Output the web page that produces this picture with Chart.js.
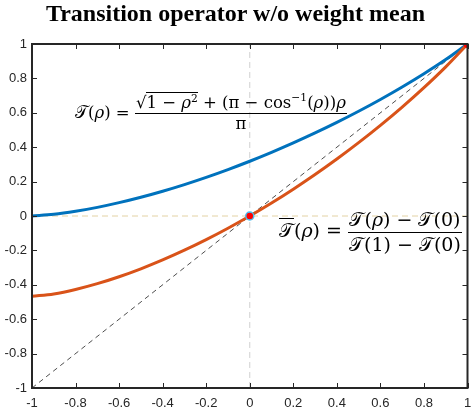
<!DOCTYPE html>
<html>
<head>
<meta charset="utf-8">
<script src="https://cdn.jsdelivr.net/npm/chart.js@4.4.1/dist/chart.umd.min.js"></script>
<style>
  html, body { margin: 0; background: #fff; overflow: hidden; }
  #wrap { position: relative; width: 471px; height: 414px; overflow: hidden; }
  #chart { position: absolute; left: 0; top: 0; }
  #title { position: absolute; left: 0; top: 0px; width: 471px; text-align: center;
    font: bold 24px "Liberation Serif", "Times New Roman", serif; color: #000; }
  .eq { position: absolute; font-family: "DejaVu Serif", "Liberation Serif", serif; color: #000; white-space: nowrap; line-height: 1.15; }
  .eq .frac { display: inline-block; vertical-align: middle; text-align: center; }
  .eq .num { display: block; padding: 0 1px 1px; }
  .eq .den { display: block; border-top: 1px solid #000; padding: 1px 1px 0; }
  .eq i { font-style: italic; }
  .eq sup { font-size: 0.65em; }
</style>
</head>
<body>
<div id="wrap">
  <canvas id="chart" width="473" height="414"></canvas>
  <div id="title">Transition operator w/o weight mean</div>
  <div class="eq" id="eq1" style="left:75px; top:92px; font-size:16.5px;">
    𝒯(<i>ρ</i>) = <span class="frac"><span class="num">√<span style="border-top:1px solid #000">1 − <i>ρ</i><sup>2</sup></span> + (π − cos<sup>−1</sup>(<i>ρ</i>))<i>ρ</i></span><span class="den">π</span></span>
  </div>
  <div class="eq" id="eq2" style="left:279px; top:209px; font-size:19px;">
    <span style="text-decoration: overline">𝒯</span>(<i>ρ</i>) = <span class="frac"><span class="num">𝒯(<i>ρ</i>) − 𝒯(0)</span><span class="den">𝒯(1) − 𝒯(0)</span></span>
  </div>
</div>
<script>
const rho = [-1, -0.9, -0.8, -0.7, -0.6, -0.5, -0.4, -0.3, -0.2, -0.1, 0,
             0.1, 0.2, 0.3, 0.4, 0.5, 0.6, 0.7, 0.8, 0.9, 1];
const transition = [0, 0.0095, 0.0271, 0.0501, 0.0776, 0.1090, 0.1441, 0.1827, 0.2247, 0.2699, 0.3183,
                    0.3699, 0.4247, 0.4827, 0.5441, 0.6090, 0.6776, 0.7501, 0.8271, 0.9095, 1];
const normalized = [-0.4669, -0.4530, -0.4272, -0.3935, -0.3532, -0.3071, -0.2555, -0.1989, -0.1373, -0.0710, 0,
                    0.0757, 0.1561, 0.2412, 0.3313, 0.4264, 0.5270, 0.6334, 0.7464, 0.8673, 1];
const diagonal = [[-1, -1], [1, 1]];
const zeroH = [[-1, 0], [1, 0]];
const zeroV = [[0, -1], [0, 1]];
const fixedPoints = [[0, 0], [1, 1]];
const tickValues = [-1, -0.8, -0.6, -0.4, -0.2, 0, 0.2, 0.4, 0.6, 0.8, 1];

const toXY = arr => arr.map(p => ({ x: p[0], y: p[1] }));
const zip = (xs, ys) => xs.map((x, i) => ({ x, y: ys[i] }));

const axisColor = '#262626';

// MATLAB style box with inward ticks
const framePlugin = {
    id: 'frame',
    afterDatasetsDraw(chart) {
        const { ctx, chartArea: a, scales } = chart;
        ctx.save();
        ctx.strokeStyle = axisColor;
        ctx.lineWidth = 1;
        const len = 5;
        ctx.beginPath();
        tickValues.forEach(v => {
            const x = Math.round(scales.x.getPixelForValue(v)) + 0.5;
            ctx.moveTo(x, a.bottom); ctx.lineTo(x, a.bottom - len);
            ctx.moveTo(x, a.top); ctx.lineTo(x, a.top + len);
            const y = Math.round(scales.y.getPixelForValue(v)) + 0.5;
            ctx.moveTo(a.left, y); ctx.lineTo(a.left + len, y);
            ctx.moveTo(a.right, y); ctx.lineTo(a.right - len, y);
        });
        ctx.stroke();
        ctx.lineWidth = 2;
        ctx.strokeRect(a.left, a.top, a.right - a.left, a.bottom - a.top);
        ctx.restore();
    }
};

const tickFont = { family: '"Liberation Sans", Arial, sans-serif', size: 13 };

new Chart(document.getElementById('chart'), {
    type: 'scatter',
    data: {
        datasets: [
            {
                data: toXY(fixedPoints),
                showLine: false,
                pointRadius: [4, 4],
                pointBackgroundColor: '#ff0000',
                pointBorderColor: ['#4dbeee', '#ff0000'],
                pointBorderWidth: [1.5, 0]
            },
            {
                data: zip(rho, normalized),
                showLine: true,
                borderColor: '#D95319',
                borderWidth: 3,
                pointRadius: 0,
                cubicInterpolationMode: 'monotone'
            },
            {
                data: zip(rho, transition),
                showLine: true,
                borderColor: '#0072BD',
                borderWidth: 3,
                pointRadius: 0,
                cubicInterpolationMode: 'monotone'
            },
            {
                data: toXY(diagonal),
                showLine: true,
                borderColor: '#000000',
                borderWidth: 0.7,
                borderDash: [5, 4],
                pointRadius: 0
            },
            {
                data: toXY(zeroH),
                showLine: true,
                borderColor: '#e3d2a4',
                borderWidth: 1,
                borderDash: [6, 4],
                pointRadius: 0
            },
            {
                data: toXY(zeroV),
                showLine: true,
                borderColor: '#d0d0d0',
                borderWidth: 1,
                borderDash: [6, 4],
                pointRadius: 0
            }
        ]
    },
    options: {
        responsive: false,
        animation: false,
        layout: { padding: { top: 44, right: -1, left: 0, bottom: 0 } },
        plugins: {
            legend: { display: false },
            tooltip: { enabled: false }
        },
        scales: {
            x: {
                type: 'linear',
                min: -1, max: 1,
                afterFit: s => { s.height = 26; s.paddingLeft = 0; s.paddingRight = 0; },
                afterBuildTicks: s => { s.ticks = tickValues.map(v => ({ value: v })); },
                grid: { display: false, drawTicks: false },
                border: { display: false },
                ticks: { color: axisColor, font: tickFont, padding: 8, maxRotation: 0,
                         callback: v => String(+v.toFixed(1)) }
            },
            y: {
                min: -1, max: 1,
                afterFit: s => { s.width = 32; s.paddingTop = 0; s.paddingBottom = 0; },
                afterBuildTicks: s => { s.ticks = tickValues.map(v => ({ value: v })); },
                grid: { display: false, drawTicks: false },
                border: { display: false },
                ticks: { color: axisColor, font: tickFont, padding: 5,
                         callback: v => String(+v.toFixed(1)) }
            }
        }
    },
    plugins: [framePlugin]
});
</script>
</body>
</html>
